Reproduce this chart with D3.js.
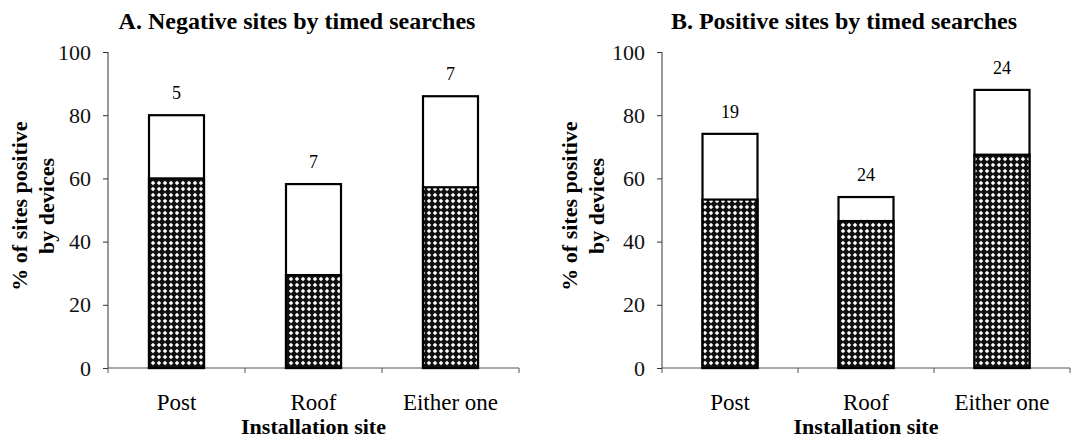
<!DOCTYPE html>
<html>
<head>
<meta charset="utf-8">
<script src="https://cdn.jsdelivr.net/npm/d3@7"></script>
<style>
  body { margin: 0; background: #fff; }
  svg { font-family: "Liberation Serif", "Times New Roman", serif; }
</style>
</head>
<body>
<div id="chart"></div>
<script>
var W = 1077, H = 439;

// data
var sites = ["Post", "Roof", "Either one"];
var titles = ["A. Negative sites by timed searches", "B. Positive sites by timed searches"];
var hatchA = [60, 29.4, 57.2];
var totalA = [80, 58.2, 86];
var countA = ["5", "7", "7"];
var hatchB = [53.3, 46.5, 67.5];
var totalB = [74.1, 54.1, 88];
var countB = ["19", "24", "24"];
var yTicks = [0, 20, 40, 60, 80, 100];

var panels = [
	{ title: titles[0], hatch: hatchA, total: totalA, count: countA, left: 108, right: 519, titleX: 297, yTitleX: 20 },
	{ title: titles[1], hatch: hatchB, total: totalB, count: countB, left: 662, right: 1070, titleX: 844, yTitleX: 570 }
];

var svg = d3.select("#chart").append("svg")
	.attr("width", W)
	.attr("height", H);

// cross hatch fill
var pat = svg.append("defs").append("pattern")
	.attr("id", "xhatch")
	.attr("patternUnits", "userSpaceOnUse")
	.attr("width", 6)
	.attr("height", 6);
pat.append("rect").attr("width", 6).attr("height", 6).attr("fill", "#111");
pat.append("path").attr("d", "M3,0.8 L5.2,3 L3,5.2 L0.8,3 Z").attr("fill", "#fff");

var plotTop = 52, plotBottom = 368;

panels.forEach(function(p) {
	var g = svg.append("g");

	var y = d3.scaleLinear().domain([0, 100]).range([plotBottom, plotTop]);

	// y axis
	var yAxis = d3.axisLeft(y).tickValues(yTicks).tickSize(5).tickPadding(12);
	var ya = g.append("g").attr("transform", "translate(" + p.left + ",0)").call(yAxis);
	ya.select(".domain").attr("stroke", "#333").attr("d", "M0," + plotTop + "V" + plotBottom);
	ya.selectAll(".tick line").attr("stroke", "#333");
	ya.selectAll(".tick text")
		.attr("font-size", 22)
		.attr("font-family", "Liberation Serif")
		.attr("fill", "#111");

	// x axis line with category separators
	var xa = g.append("g");
	xa.append("line")
		.attr("x1", p.left).attr("x2", p.right)
		.attr("y1", plotBottom).attr("y2", plotBottom)
		.attr("stroke", "#555").attr("stroke-width", 1.2);
	var step = (p.right - p.left) / sites.length;
	d3.range(sites.length + 1).forEach(function(i) {
		xa.append("line")
			.attr("x1", p.left + i * step).attr("x2", p.left + i * step)
			.attr("y1", plotBottom).attr("y2", plotBottom + 5)
			.attr("stroke", "#555");
	});
	var xc = d3.scalePoint().domain(sites).range([p.left + step / 2, p.right - step / 2]);

	// bars: white total box then hatched part
	var bw = 55;
	g.selectAll(".tot").data(sites).enter().append("rect")
		.attr("x", function(d) { return xc(d) - bw / 2; })
		.attr("y", function(d, i) { return y(p.total[i]); })
		.attr("width", bw)
		.attr("height", function(d, i) { return plotBottom - y(p.total[i]); })
		.attr("fill", "#fff").attr("stroke", "#000").attr("stroke-width", 2.2);
	g.selectAll(".hat").data(sites).enter().append("rect")
		.attr("x", function(d) { return xc(d) - bw / 2; })
		.attr("y", function(d, i) { return y(p.hatch[i]); })
		.attr("width", bw)
		.attr("height", function(d, i) { return plotBottom - y(p.hatch[i]); })
		.attr("fill", "url(#xhatch)").attr("stroke", "#000").attr("stroke-width", 2.2);

	// counts above bars
	g.selectAll(".cnt").data(sites).enter().append("text")
		.attr("x", function(d) { return xc(d); })
		.attr("y", function(d, i) { return y(p.total[i]) - 16; })
		.attr("text-anchor", "middle")
		.attr("font-size", 18)
		.text(function(d, i) { return p.count[i]; });

	// category labels
	g.selectAll(".cat").data(sites).enter().append("text")
		.attr("x", function(d) { return xc(d); })
		.attr("y", 410)
		.attr("text-anchor", "middle")
		.attr("font-size", 23)
		.text(function(d) { return d; });

	g.append("text")
		.attr("x", xc("Roof"))
		.attr("y", 434)
		.attr("text-anchor", "middle")
		.attr("font-size", 22)
		.attr("font-weight", "bold")
		.text("Installation site");

	g.append("text")
		.attr("x", p.titleX)
		.attr("y", 29)
		.attr("text-anchor", "middle")
		.attr("font-size", 24)
		.attr("font-weight", "bold")
		.text(p.title);

	var yt = g.append("text")
		.attr("transform", "translate(" + p.yTitleX + ",206) rotate(-90)")
		.attr("text-anchor", "middle")
		.attr("font-size", 22)
		.attr("font-weight", "bold");
	yt.append("tspan").attr("x", 0).attr("y", 7).text("% of sites positive");
	yt.append("tspan").attr("x", 0).attr("dy", 27).text("by devices");
});
</script>
</body>
</html>
